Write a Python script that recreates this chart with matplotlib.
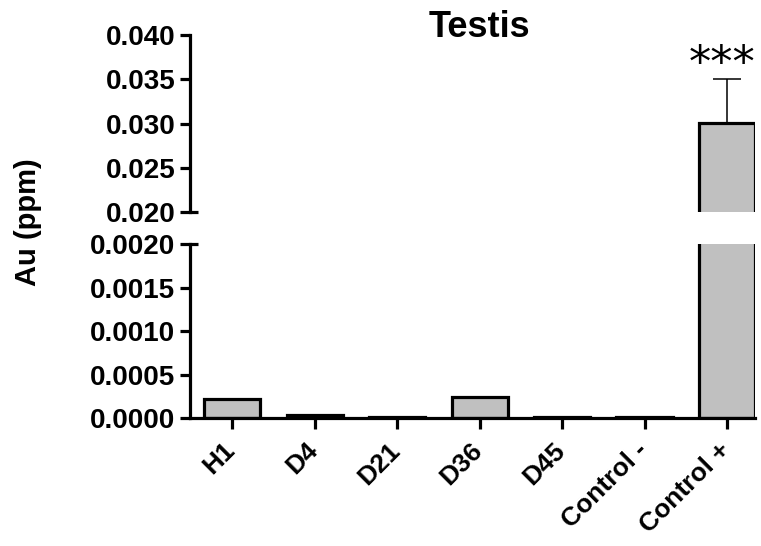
#!/usr/bin/env python3

import numpy as np
import matplotlib
matplotlib.use("Agg")
import matplotlib.pyplot as plt
import matplotlib.transforms as mtransforms
from matplotlib.ticker import FormatStrFormatter


groups = ["H1", "D4", "D21", "D36", "D45", "Control -", "Control +"]
au_ppm = [0.00022, 0.00004, 0.00002, 0.00025, 0.00002, 0.00002, 0.0301]
err_up = [0.0, 0.0, 0.0, 0.0, 0.0, 0.0, 0.0049]
stars = {6: "***"}

top_ticks = [0.020, 0.025, 0.030, 0.035, 0.040]
bottom_ticks = [0.0, 0.0005, 0.0010, 0.0015, 0.0020]

BAR_COLOR = "#c0c0c0"
LW = 2.3

plt.rcParams["font.family"] = ["Liberation Sans", "DejaVu Sans"]
plt.rcParams["font.weight"] = "bold"

fig = plt.figure(figsize=(7.61, 5.46), dpi=100)
ax_top = fig.add_axes([0.2497, 0.6123, 0.7425, 0.3230])
ax_bot = fig.add_axes([0.2497, 0.2339, 0.7425, 0.3192])

x = np.arange(len(groups))

for ax in (ax_top, ax_bot):
    ax.bar(x, au_ppm, width=0.68, color=BAR_COLOR, edgecolor="black",
           linewidth=LW, zorder=2)
    ax.set_xlim(-0.51, 6.34)
    for side in ("top", "right"):
        ax.spines[side].set_visible(False)
    ax.spines["left"].set_linewidth(LW)
    ax.spines["bottom"].set_linewidth(LW)
    ax.tick_params(axis="y", length=7, width=LW, pad=3.5, labelsize=20)
    ax.tick_params(axis="x", length=8, width=LW, pad=4, labelsize=19)

# top panel (0.020 - 0.040)
ax_top.set_ylim(0.020, 0.040)
ax_top.set_yticks(top_ticks)
ax_top.yaxis.set_major_formatter(FormatStrFormatter("%.3f"))
ax_top.spines["bottom"].set_visible(False)
ax_top.set_xticks([])
ax_top.errorbar(x[6], au_ppm[6], yerr=[[0], [err_up[6]]], fmt="none",
                ecolor="black", elinewidth=1.1, capsize=10, capthick=1.1)
for i, s in stars.items():
    ax_top.text(x[i] - 0.06, au_ppm[i] + err_up[i] + 0.0017, s,
                ha="center", va="center", fontsize=32, fontweight="normal",
                family="DejaVu Sans")
ax_top.plot([0, 0.014], [0, 0], transform=ax_top.transAxes, color="black",
            lw=LW, clip_on=False, solid_capstyle="butt")

# bottom panel (0 - 0.0020)
ax_bot.set_ylim(0.0, 0.0020)
ax_bot.set_yticks(bottom_ticks)
ax_bot.yaxis.set_major_formatter(FormatStrFormatter("%.4f"))
ax_bot.set_xticks(x)
ax_bot.set_xticklabels(groups, rotation=45, ha="right", va="baseline",
                       rotation_mode="anchor")
ax_bot.tick_params(axis="x", pad=16)
shift = mtransforms.ScaledTranslation(3 / 72, 0, fig.dpi_scale_trans)
for lab in ax_bot.get_xticklabels():
    lab.set_transform(lab.get_transform() + shift)
ax_bot.plot([0, 0.014], [1, 1], transform=ax_bot.transAxes, color="black",
            lw=LW, clip_on=False, solid_capstyle="butt")

fig.text(479.5 / 761, 0.9322, "Testis", ha="center", va="baseline",
         fontsize=26, fontweight="bold")
fig.text(28 / 761, 0.5925, "Au (ppm)", ha="center", va="center",
         rotation=90, fontsize=21, fontweight="bold")

fig.savefig("out.png", dpi=100)
